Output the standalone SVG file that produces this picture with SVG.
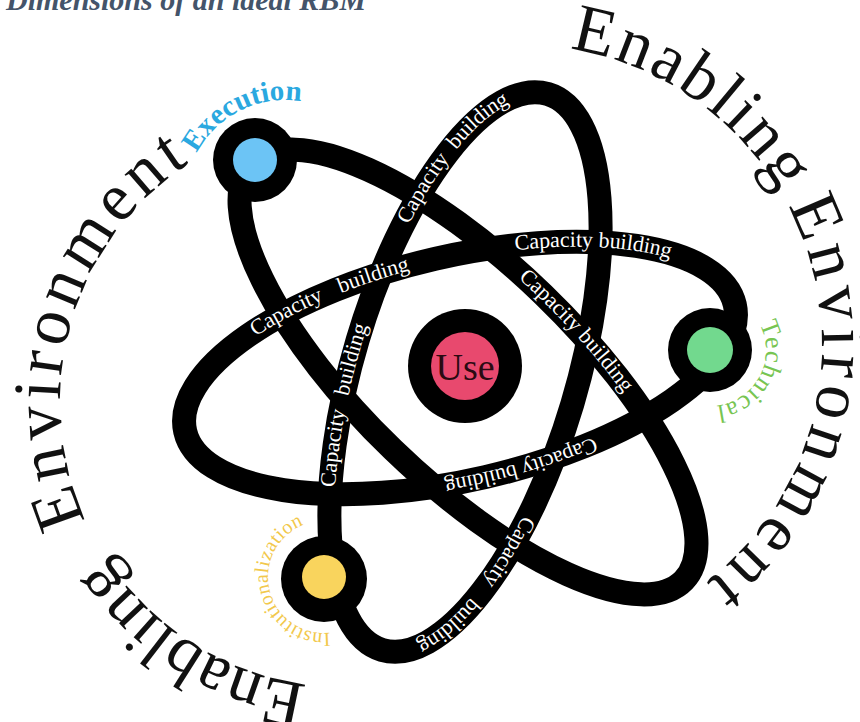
<svg xmlns="http://www.w3.org/2000/svg" width="860" height="722" viewBox="0 0 860 722">
<style>
.orbit{fill:none;stroke:#000;stroke-width:24}
.cb{font-family:"Liberation Serif","Times New Roman",serif;font-size:22px;fill:#fff;dominant-baseline:middle}
.big{font-family:"Liberation Serif","Times New Roman",serif;font-size:68px;fill:#111}
.ring{fill:#000}
.lbl{font-family:"Liberation Serif","Times New Roman",serif}
</style>
<defs>
<path id="pL1" d="M383,269 A112,290 16.6 0 1 517,95"/>
<path id="pL2" d="M454,254.7 A282,112 -13 0 1 696,263"/>
<path id="pL3" d="M225.5,353 A282,112 -13 0 1 468.5,252"/>
<path id="pL4" d="M330,546 A112,290 16.6 0 1 383,269"/>
<path id="pL5" d="M465,228 A300,108 44 0 1 664,446.5"/>
<path id="pL6" d="M642,419 A282,112 -13 0 1 371,493.5"/>
<path id="pL7" d="M547,475 A112,290 16.6 0 1 413,649"/>
<path id="arcR" d="M522,45 A300,300 0 0 1 822,345 A300,300 0 0 1 522,645 A300,300 0 0 1 222,345 A300,300 0 0 1 522,45"/>
<path id="arcL" d="M345,687 A285,285 0 0 1 60,402 A285,285 0 0 1 345,117 A285,285 0 0 1 630,402 A285,285 0 0 1 345,687"/>
<path id="arcExec" d="M196.7,153.1 A100,100 0 0 1 335,113.4"/>
<path id="arcTech" d="M759.4,323.7 A56,56 0 0 1 682,398.5"/>
<path id="arcInst" d="M329.9,632.7 A56,56 0 0 1 268,577 A56,56 0 0 1 333.7,521.9"/>
</defs>
<rect width="860" height="722" fill="#fff"/>
<text x="6" y="10" font-family="Liberation Serif,serif" font-size="30" font-style="italic" font-weight="bold" fill="#44546a">Dimensions of an ideal RBM</text>
<g id="enabling-environment">
<text class="big"><textPath href="#arcR" startOffset="48" letter-spacing="2.4">Enabling</textPath></text>
<text class="big"><textPath href="#arcR" startOffset="326" letter-spacing="6.3">Environment</textPath></text>
<text class="big"><textPath href="#arcL" startOffset="38">Enabling</textPath></text>
<text class="big"><textPath href="#arcL" startOffset="325" letter-spacing="5">Environment</textPath></text>
</g>
<g id="connectors">
<ellipse class="orbit" cx="465" cy="372" rx="112" ry="290" transform="rotate(16.6 465 372)"/>
<ellipse class="orbit" cx="460" cy="368" rx="282" ry="112" transform="rotate(-13 460 368)"/>
<ellipse class="orbit" cx="468" cy="372" rx="300" ry="108" transform="rotate(44 468 372)"/>
<text class="cb"><textPath href="#pL1" startOffset="59%" text-anchor="middle" word-spacing="6">Capacity building</textPath></text>
<text class="cb"><textPath href="#pL2" startOffset="57%" text-anchor="middle">Capacity building</textPath></text>
<text class="cb"><textPath href="#pL3" startOffset="45%" text-anchor="middle" word-spacing="13">Capacity building</textPath></text>
<text class="cb"><textPath href="#pL4" startOffset="50%" text-anchor="middle" word-spacing="9">Capacity building</textPath></text>
<text class="cb"><textPath href="#pL5" startOffset="51%" text-anchor="middle">Capacity building</textPath></text>
<text class="cb"><textPath href="#pL6" startOffset="46%" text-anchor="middle">Capacity building</textPath></text>
<text class="cb"><textPath href="#pL7" startOffset="59%" text-anchor="middle" word-spacing="15">Capacity building</textPath></text>
</g>
<g id="node-execution">
<circle class="ring" cx="255" cy="160" r="42"/>
<circle cx="255" cy="160" r="22" fill="#6cc4f5"/>
<text class="lbl" font-size="29" font-weight="bold" fill="#2aa8e0"><textPath href="#arcExec">Execution</textPath></text>
</g>
<g id="node-technical">
<circle class="ring" cx="710" cy="350" r="42"/>
<circle cx="710" cy="350" r="23" fill="#72d98e"/>
<text class="lbl" font-size="26" fill="#77c552" letter-spacing="1"><textPath href="#arcTech">Technical</textPath></text>
</g>
<g id="node-institutionalization">
<circle class="ring" cx="324" cy="579" r="43"/>
<circle cx="324" cy="577" r="22" fill="#f9d45d"/>
<text class="lbl" font-size="20" fill="#f2c84b" letter-spacing="0.5"><textPath href="#arcInst">Institutionalization</textPath></text>
</g>
<g id="node-use">
<circle class="ring" cx="465" cy="366" r="57"/>
<circle cx="465" cy="366" r="34" fill="#e8496e"/>
<text class="lbl" x="465" y="380" font-size="38" text-anchor="middle" fill="#2a0a12">Use</text>
</g>
</svg>
